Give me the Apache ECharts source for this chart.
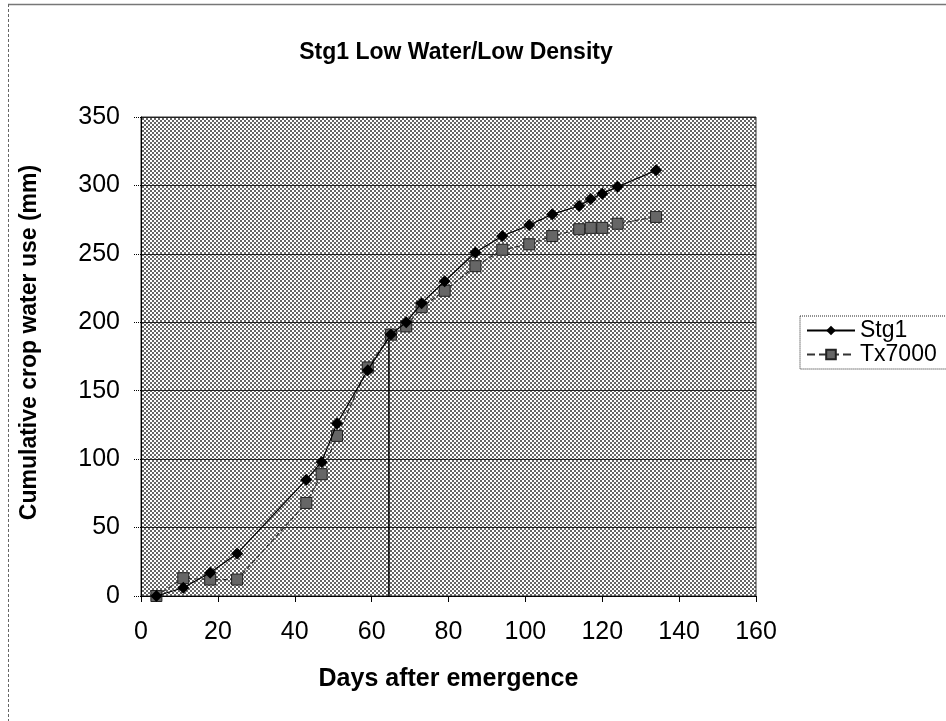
<!DOCTYPE html>
<html>
<head>
<meta charset="utf-8">
<script src="https://cdn.jsdelivr.net/npm/echarts@6/dist/echarts.min.js"></script>
<style>
  html, body { margin: 0; padding: 0; background: #fff; }
  #chart { width: 946px; height: 721px; }
</style>
</head>
<body>
<div id="chart"></div>
<script>
// days after emergence (x)
var days = [4, 11, 18, 25, 43, 47, 51, 59, 65, 69, 73, 79, 87, 94, 101, 107, 114, 117, 120, 124, 134];
// cumulative crop water use (mm)
var stg1 = [0, 6, 17, 31, 85, 98, 126, 165, 191, 200, 214, 230, 251, 263, 271, 279, 285, 290, 294, 299, 311];
var tx7000 = [0, 13, 12, 12, 68, 89, 117, 167, 191, 197, 211, 223, 241, 253, 257, 263, 268, 269, 269, 272, 277];
// vertical marker line
var cutoffDays = [64.5, 64.5];
var cutoffValues = [0, 192];

var xTicks = [0, 20, 40, 60, 80, 100, 120, 140, 160];
var yTicks = [0, 50, 100, 150, 200, 250, 300, 350];

function pairs(xs, ys) {
    var out = [];
    for (var i = 0; i < xs.length; i++) out.push([xs[i], ys[i]]);
    return out;
}

//dotted plot background
var tile = document.createElement('canvas');
tile.width = 4; tile.height = 4;
var ctx = tile.getContext('2d');
ctx.fillStyle = '#ffffff';
ctx.fillRect(0, 0, 4, 4);
ctx.fillStyle = '#666666';
ctx.fillRect(0, 0, 2, 2);
ctx.fillRect(2, 2, 2, 2);

var font = '"Liberation Sans", Arial, sans-serif';
var myChart = echarts.init(document.getElementById('chart'));
var option = {
    animation: false,
    backgroundColor: '#fff',
    title: {
        text: 'Stg1 Low Water/Low Density',
        left: 451, top: 36, textAlign: 'center',
        textStyle: { fontFamily: font, fontSize: 23, fontWeight: 'bold', color: '#000' }
    },
    graphic: [
        { type: 'line', shape: { x1: 8, y1: 4.5, x2: 946, y2: 4.5 }, style: { stroke: '#777', lineWidth: 1.5 } },
        { type: 'line', shape: { x1: 8.5, y1: 4, x2: 8.5, y2: 721 }, style: { stroke: '#666', lineWidth: 1, lineDash: [3, 2] } }
    ],
    grid: {
        left: 141, right: 190, top: 117, bottom: 125,
        show: true,
        backgroundColor: { image: tile, repeat: 'repeat' },
        borderColor: '#333', borderWidth: 1
    },
    legend: {
        orient: 'vertical',
        left: 800, top: 316,
        data: ['Stg1', 'Tx7000'],
        itemWidth: 48, itemHeight: 12, itemGap: 1,
        padding: [3, 40, 3, 6],
        borderColor: '#222', borderWidth: 1, borderType: 'dotted',
        textStyle: { fontFamily: font, fontSize: 23, color: '#000' }
    },
    xAxis: {
        type: 'value', min: 0, max: 160, interval: 20,
        name: 'Days after emergence', nameLocation: 'middle', nameGap: 71,
        nameTextStyle: { fontFamily: font, fontSize: 25, fontWeight: 'bold', color: '#000' },
        axisLine: { show: true, lineStyle: { color: '#000', width: 1 } },
        axisTick: { show: true, inside: false, length: 6, lineStyle: { color: '#000' } },
        axisLabel: {
            fontFamily: font, fontSize: 25, color: '#000', margin: 24,
            formatter: function (v) { return xTicks.indexOf(v) >= 0 ? String(v) : ''; }
        },
        splitLine: { show: false }
    },
    yAxis: {
        type: 'value', min: 0, max: 350, interval: 50,
        name: 'Cumulative crop water use (mm)', nameLocation: 'middle', nameGap: 100,
        nameTextStyle: { fontFamily: font, fontSize: 23, fontWeight: 'bold', color: '#000', padding: [0, 0, 0, 28] },
        axisLine: { show: true, lineStyle: { color: '#000', width: 1 } },
        axisTick: { show: true, inside: false, length: 7, lineStyle: { color: '#000', type: 'dotted' } },
        axisLabel: {
            fontFamily: font, fontSize: 25, color: '#000', margin: 21,
            formatter: function (v) { return yTicks.indexOf(v) >= 0 ? String(v) : ''; }
        },
        splitLine: { show: true, lineStyle: { color: '#222', width: 1 } }
    },
    series: [
        {
            name: 'Stg1', type: 'line',
            data: pairs(days, stg1),
            symbol: 'diamond', symbolSize: 12,
            itemStyle: { color: '#000' },
            lineStyle: { color: '#000', width: 1.2 },
            z: 4
        },
        {
            name: 'Tx7000', type: 'line',
            data: pairs(days, tx7000),
            symbol: 'rect', symbolSize: 11,
            itemStyle: { color: '#666', borderColor: '#222', borderWidth: 1 },
            lineStyle: { color: '#333', width: 1.2, type: 'dashed' },
            z: 3
        },
        {
            name: 'cutoff', type: 'line',
            data: pairs(cutoffDays, cutoffValues),
            symbol: 'none',
            lineStyle: { color: '#000', width: 1.5 },
            z: 2
        }
    ]
};
myChart.setOption(option);
</script>
</body>
</html>
